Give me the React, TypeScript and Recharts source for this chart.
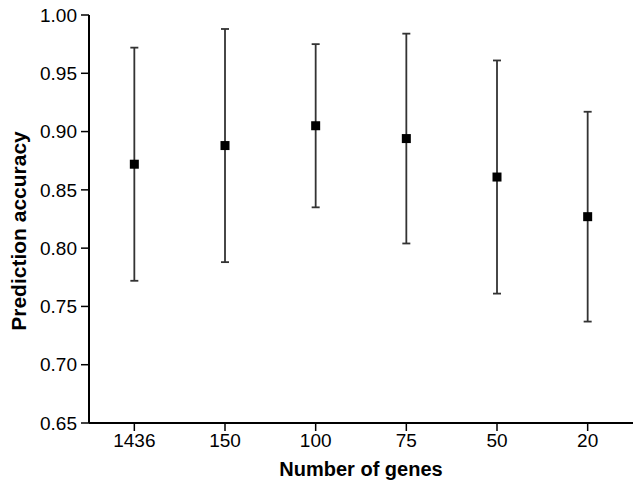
import React from 'react';
import { ComposedChart, Line, XAxis, YAxis, ErrorBar } from 'recharts';

const genes = ['1436', '150', '100', '75', '50', '20'];
const accuracy = [0.872, 0.888, 0.905, 0.894, 0.861, 0.827];
const spread = [0.1, 0.1, 0.07, 0.09, 0.1, 0.09];
const yTicks = [0.65, 0.7, 0.75, 0.8, 0.85, 0.9, 0.95, 1.0];
const yMinorTicks = [0.675, 0.725, 0.775, 0.825, 0.875, 0.925, 0.975];
const xMinorTicks = [0, 1, 2, 3, 4, 5, 6];

const data = genes.map((g, i) => ({ genes: g, acc: accuracy[i], err: spread[i] }));

const font = '"Liberation Sans", Arial, sans-serif';

// filled square marker
const Square = (props: any) => {
  const { cx, cy } = props;
  if (cx == null || cy == null) return <g />;
  return <rect x={cx - 4.5} y={cy - 4.5} width={9} height={9} fill="#000" />;
};

const NoLabel = () => <g />;

// rotated y title, sits a bit below the middle of the axis like the original
const YTitle = (props: any) => {
  const { viewBox } = props;
  const cx = viewBox.x + 18;
  const cy = viewBox.y + viewBox.height / 2 + 12;
  return (
    <text
      x={cx}
      y={cy}
      transform={`rotate(-90, ${cx}, ${cy})`}
      textAnchor="middle"
      dominantBaseline="central"
      fill="#000"
      fontSize={21}
      fontWeight="bold"
      fontFamily={font}
    >
      Prediction accuracy
    </text>
  );
};

export default function App() {
  return (
    <div style={{ position: 'absolute', left: 0, top: 0, background: '#fff' }}>
      <ComposedChart
        width={636}
        height={481}
        data={data}
        margin={{ top: 15, right: 3, left: 0, bottom: 0 }}
        style={{ fontFamily: font }}
      >
        {/* minor ticks, drawn first so they sit on the plot edge */}
        <XAxis
          xAxisId="minor"
          type="number"
          domain={[0, 6]}
          ticks={xMinorTicks}
          height={0}
          axisLine={false}
          tickSize={4}
          tick={NoLabel}
          tickLine={{ stroke: '#000', strokeWidth: 1.5 }}
        />
        <YAxis
          yAxisId="minor"
          type="number"
          domain={[0.65, 1]}
          ticks={yMinorTicks}
          width={0}
          axisLine={false}
          tickSize={4}
          tick={NoLabel}
          tickLine={{ stroke: '#000', strokeWidth: 1.5 }}
        />

        <XAxis
          dataKey="genes"
          type="category"
          scale="band"
          interval={0}
          height={58}
          tickSize={8}
          tickMargin={3}
          axisLine={{ stroke: '#000', strokeWidth: 2 }}
          tickLine={{ stroke: '#000', strokeWidth: 1.5 }}
          tick={{ fill: '#000', fontSize: 19 }}
          label={{
            value: 'Number of genes',
            position: 'insideBottom',
            offset: 5,
            style: { fill: '#000', fontSize: 20, fontWeight: 'bold' },
          }}
        />
        <YAxis
          type="number"
          domain={[0.65, 1]}
          ticks={yTicks}
          width={89}
          tickSize={8}
          tickMargin={4}
          tickFormatter={(v) => v.toFixed(2)}
          axisLine={{ stroke: '#000', strokeWidth: 2 }}
          tickLine={{ stroke: '#000', strokeWidth: 1.5 }}
          tick={{ fill: '#000', fontSize: 19 }}
          label={<YTitle />}
        />

        <Line
          dataKey="acc"
          stroke="none"
          dot={Square}
          activeDot={false}
          isAnimationActive={false}
        >
          <ErrorBar dataKey="err" direction="y" width={4} stroke="#333" strokeWidth={1.8} />
        </Line>
      </ComposedChart>
    </div>
  );
}
